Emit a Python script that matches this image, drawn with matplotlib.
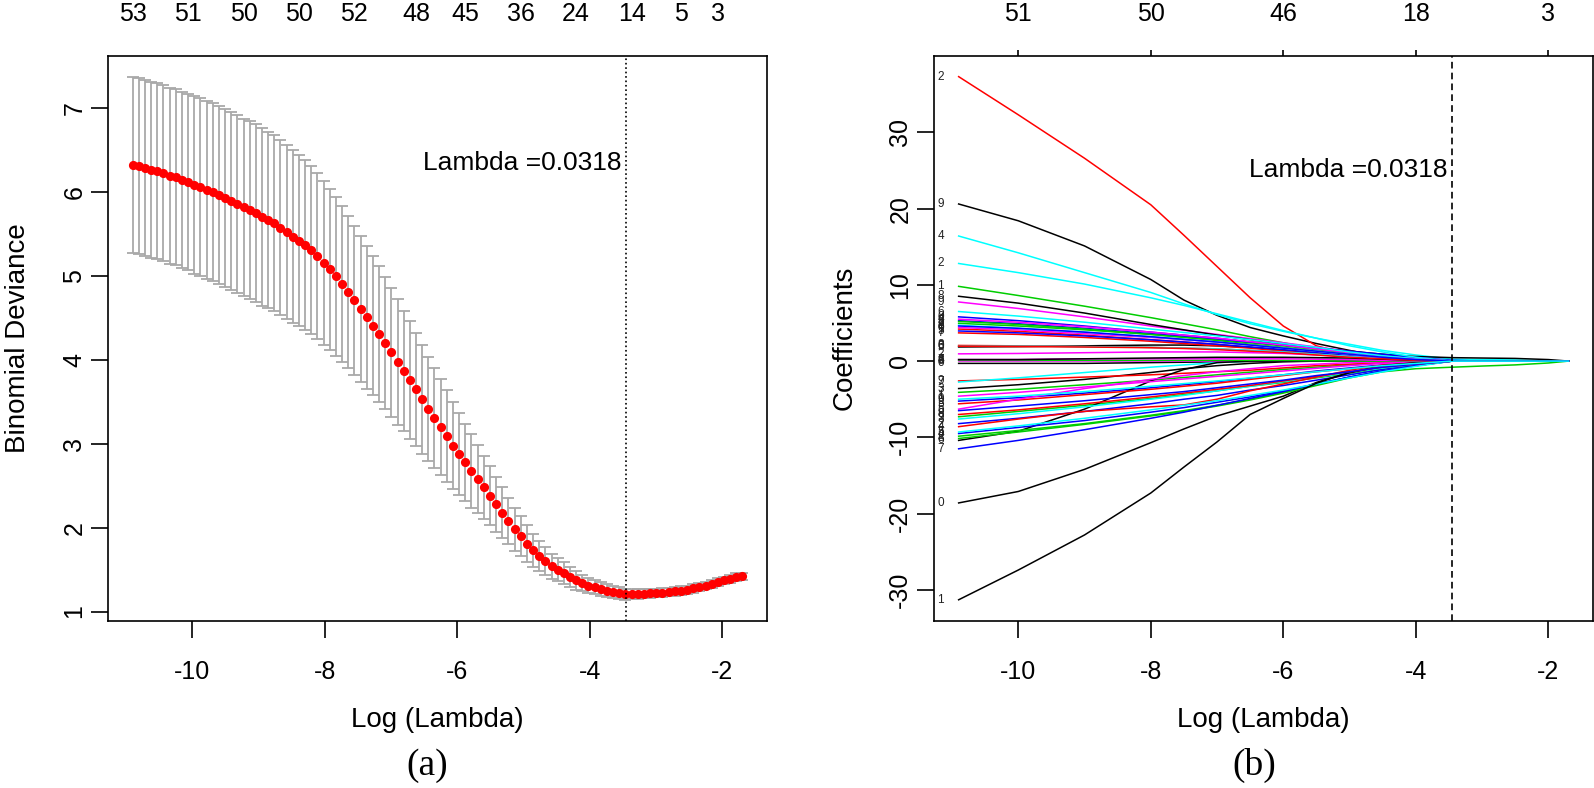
import numpy as np
import matplotlib
matplotlib.use('Agg')
import matplotlib.pyplot as plt

plt.rcParams['font.family'] = ['Liberation Sans', 'DejaVu Sans']
plt.rcParams['axes.unicode_minus'] = False

#Cross-validation curve, one value per lambda on the path (panel a)
log_lambda_first = -10.9
log_lambda_last = -1.693
cv_mean = [6.33, 6.31, 6.29, 6.27, 6.25, 6.23, 6.20, 6.18, 6.15, 6.12,
           6.09, 6.06, 6.03, 6.00, 5.97, 5.93, 5.90, 5.86, 5.82, 5.79,
           5.75, 5.71, 5.67, 5.63, 5.58, 5.53, 5.47, 5.42, 5.37, 5.31,
           5.24, 5.16, 5.08, 5.00, 4.91, 4.81, 4.71, 4.61, 4.51, 4.41,
           4.31, 4.20, 4.09, 3.98, 3.87, 3.76, 3.65, 3.53, 3.42, 3.31,
           3.20, 3.09, 2.98, 2.88, 2.78, 2.68, 2.58, 2.48, 2.38, 2.28,
           2.18, 2.08, 1.98, 1.90, 1.81, 1.73, 1.66, 1.60, 1.54, 1.50,
           1.46, 1.41, 1.37, 1.34, 1.31, 1.29, 1.27, 1.25, 1.235, 1.22,
           1.205, 1.207, 1.21, 1.212, 1.215, 1.22, 1.225, 1.23, 1.24, 1.25,
           1.26, 1.275, 1.29, 1.31, 1.33, 1.35, 1.37, 1.39, 1.41, 1.42]
cv_sd = [1.05, 1.05, 1.05, 1.05, 1.05, 1.05, 1.05, 1.05, 1.05, 1.05,
         1.06, 1.06, 1.06, 1.06, 1.06, 1.06, 1.06, 1.06, 1.06, 1.06,
         1.06, 1.06, 1.05, 1.05, 1.04, 1.04, 1.03, 1.02, 1.01, 1.00,
         0.99, 0.98, 0.96, 0.95, 0.93, 0.91, 0.89, 0.87, 0.85, 0.83,
         0.81, 0.79, 0.77, 0.75, 0.72, 0.70, 0.67, 0.65, 0.62, 0.60,
         0.57, 0.55, 0.52, 0.49, 0.46, 0.44, 0.41, 0.38, 0.35, 0.33,
         0.30, 0.28, 0.26, 0.24, 0.22, 0.20, 0.18, 0.17, 0.15, 0.14,
         0.13, 0.12, 0.11, 0.10, 0.09, 0.085, 0.08, 0.075, 0.07, 0.07,
         0.065, 0.06, 0.06, 0.055, 0.055, 0.05, 0.05, 0.05, 0.05, 0.05,
         0.05, 0.05, 0.045, 0.045, 0.045, 0.045, 0.045, 0.045, 0.045, 0.045]
lambda_min = 0.0318

#Number of non-zero coefficients shown along the top
top_idx_a = [0, 9, 18, 27, 36, 46, 54, 63, 72, 81, 89, 95]
top_labels_a = ['53', '51', '50', '50', '52', '48', '45', '36', '24', '14', '5', '3']
top_pos_b = [-10, -8, -6, -4, -2]
top_labels_b = ['51', '50', '46', '18', '3']

#Coefficient paths (panel b), values at these log(lambda) points
path_x = [-10.9, -10, -9, -8, -7.5, -7, -6.5, -6, -5.5, -5, -4.5, -4,
          -3.45, -3, -2.5, -2, -1.693]

black_paths = [
    [20.6, 18.4, 15.1, 10.7, 8.0, 6.0, 4.4, 3.3, 2.3, 1.4, 0.6, 0.1, 0, 0, 0, 0, 0],
    [8.5, 7.6, 6.3, 4.8, 4.1, 3.4, 2.8, 2.2, 1.7, 1.3, 0.9, 0.6, 0.45, 0.4, 0.35, 0.2, 0],
    [1.85, 1.9, 2.0, 2.1, 2.1, 2.0, 1.8, 1.5, 1.2, 0.8, 0.5, 0.2, 0, 0, 0, 0, 0],
    [-0.3, -0.3, -0.3, -0.2, -0.15, -0.1, -0.05, 0, 0, 0, 0, 0, 0, 0, 0, 0, 0],
    [-3.6, -3.1, -2.4, -1.5, -1.0, -0.6, -0.3, -0.1, 0, 0, 0, 0, 0, 0, 0, 0, 0],
    [-10.4, -9.2, -6.3, -2.6, -1.1, -0.2, 0, 0, 0, 0, 0, 0, 0, 0, 0, 0, 0],
    [-18.6, -17.1, -14.2, -10.7, -8.9, -7.2, -5.9, -4.6, -2.8, -1.5, -0.7, -0.2, 0, 0, 0, 0, 0],
    [-31.3, -27.4, -22.8, -17.3, -13.9, -10.6, -7.0, -4.9, -2.9, -1.5, -0.6, -0.2, 0, 0, 0, 0, 0],
    [0.2, 0.2, 0.3, 0.4, 0.45, 0.5, 0.5, 0.5, 0.45, 0.4, 0.25, 0.1, 0, 0, 0, 0, 0],
]
black_labels = ['9', '8', '5', '0', '3', '6', '0', '1', '4']

red_paths = [
    [37.3, 32.3, 26.6, 20.5, 16.5, 12.4, 8.3, 4.6, 2.0, 0.9, 0.25, 0, 0, 0, 0, 0, 0],
    [4.2, 3.9, 3.4, 2.8, 2.5, 2.2, 1.8, 1.4, 1.0, 0.7, 0.4, 0.2, 0, 0, 0, 0, 0],
    [3.7, 3.5, 3.1, 2.6, 2.3, 2.0, 1.7, 1.3, 0.9, 0.6, 0.3, 0.1, 0, 0, 0, 0, 0],
    [2.05, 2.0, 1.9, 1.8, 1.7, 1.6, 1.4, 1.2, 0.9, 0.6, 0.3, 0.1, 0, 0, 0, 0, 0],
    [-2.6, -2.4, -2.1, -1.8, -1.6, -1.4, -1.2, -0.9, -0.6, -0.4, -0.2, -0.1, 0, 0, 0, 0, 0],
    [-5.6, -5.1, -4.4, -3.7, -3.3, -2.9, -2.4, -1.9, -1.4, -1.0, -0.6, -0.3, 0, 0, 0, 0, 0],
    [-8.6, -7.6, -6.6, -6.0, -5.75, -5.0, -3.9, -3.0, -2.1, -1.2, -0.5, -0.2, 0, 0, 0, 0, 0],
    [-7.0, -6.4, -5.6, -4.7, -4.2, -3.7, -3.2, -2.6, -2.0, -1.4, -0.8, -0.4, 0, 0, 0, 0, 0],
    [1.95, 1.9, 1.85, 1.75, 1.65, 1.5, 1.3, 1.1, 0.8, 0.5, 0.3, 0.1, 0, 0, 0, 0, 0],
]
red_labels = ['2', '1', '7', '3', '9', '5', '4', '8', '6']

green_paths = [
    [9.8, 8.6, 7.2, 5.7, 4.9, 4.1, 3.2, 2.4, 1.6, 1.0, 0.6, 0.3, 0, 0, 0, 0, 0],
    [4.95, 4.6, 4.1, 3.5, 3.15, 2.8, 2.4, 2.0, 1.5, 1.1, 0.6, 0.3, 0, 0, 0, 0, 0],
    [5.2, 4.8, 4.2, 3.5, 3.1, 2.7, 2.2, 1.8, 1.3, 0.9, 0.5, 0.2, 0, 0, 0, 0, 0],
    [-4.1, -3.7, -3.1, -2.5, -2.15, -1.8, -1.45, -1.1, -0.8, -0.5, -0.25, -0.1, 0, 0, 0, 0, 0],
    [-7.3, -6.6, -5.8, -4.9, -4.4, -3.9, -3.3, -2.8, -2.2, -1.6, -1.0, -0.5, 0, 0, 0, 0, 0],
    [-9.85, -9.1, -8.2, -7.1, -6.5, -5.8, -5.0, -4.1, -3.1, -2.1, -1.3, -0.6, 0, 0, 0, 0, 0],
    [-10.15, -9.3, -8.3, -7.2, -6.6, -5.9, -5.1, -4.2, -3.2, -2.2, -1.4, -1.0, -0.8, -0.65, -0.5, -0.25, 0],
    [0.1, 0.1, 0.1, 0.1, 0.1, 0.1, 0.1, 0.1, 0.05, 0, 0, 0, 0, 0, 0, 0, 0],
]
green_labels = ['1', '3', '5', '7', '9', '2', '8', '6']

blue_paths = [
    [5.8, 5.3, 4.6, 3.8, 3.4, 3.0, 2.5, 2.1, 1.6, 1.2, 0.8, 0.4, 0, 0, 0, 0, 0],
    [5.3, 4.9, 4.3, 3.6, 3.25, 2.9, 2.5, 2.1, 1.7, 1.3, 0.9, 0.5, 0.1, 0, 0, 0, 0],
    [3.95, 3.7, 3.3, 2.8, 2.5, 2.2, 1.85, 1.5, 1.1, 0.8, 0.5, 0.2, 0, 0, 0, 0, 0],
    [-5.25, -4.8, -4.2, -3.5, -3.1, -2.7, -2.25, -1.8, -1.3, -0.9, -0.5, -0.2, 0, 0, 0, 0, 0],
    [-8.2, -7.5, -6.6, -5.6, -5.0, -4.5, -3.8, -3.2, -2.5, -1.8, -1.1, -0.5, 0, 0, 0, 0, 0],
    [-9.5, -8.7, -7.8, -6.7, -6.1, -5.4, -4.7, -3.9, -3.0, -2.1, -1.3, -0.6, 0, 0, 0, 0, 0],
    [-11.5, -10.4, -9.0, -7.5, -6.7, -5.8, -4.9, -4.0, -3.0, -2.1, -1.3, -0.6, 0, 0, 0, 0, 0],
    [-6.5, -5.9, -5.2, -4.4, -4.0, -3.5, -3.0, -2.5, -1.9, -1.4, -0.8, -0.4, 0, 0, 0, 0, 0],
    [4.6, 4.3, 3.8, 3.2, 2.85, 2.5, 2.1, 1.7, 1.3, 0.9, 0.5, 0.2, 0, 0, 0, 0, 0],
]
blue_labels = ['0', '3', '5', '9', '2', '4', '7', '6', '8']

cyan_paths = [
    [16.4, 14.2, 11.6, 9.0, 7.5, 6.1, 4.9, 3.9, 3.0, 2.2, 1.4, 0.8, 0.25, 0.2, 0.15, 0.05, 0],
    [12.8, 11.6, 10.1, 8.3, 7.3, 6.2, 5.1, 4.0, 3.0, 2.0, 1.2, 0.5, 0, 0, 0, 0, 0],
    [6.5, 5.9, 5.1, 4.2, 3.75, 3.3, 2.8, 2.3, 1.8, 1.2, 0.7, 0.3, 0, 0, 0, 0, 0],
    [4.7, 4.3, 3.8, 3.2, 2.85, 2.5, 2.1, 1.7, 1.3, 0.9, 0.5, 0.2, 0, 0, 0, 0, 0],
    [-2.75, -2.2, -1.5, -0.8, -0.5, -0.2, 0, 0, 0, 0, 0, 0, 0, 0, 0, 0, 0],
    [-7.6, -6.9, -6.0, -5.0, -4.5, -3.9, -3.3, -2.7, -2.1, -1.5, -0.9, -0.4, 0, 0, 0, 0, 0],
    [-9.3, -8.5, -7.5, -6.4, -5.8, -5.2, -4.5, -3.8, -3.0, -2.2, -1.4, -0.7, 0, 0, 0, 0, 0],
    [1.95, 1.95, 1.9, 1.8, 1.7, 1.6, 1.4, 1.2, 0.9, 0.6, 0.3, 0.1, 0, 0, 0, 0, 0],
    [-5.0, -4.6, -4.0, -3.3, -2.95, -2.6, -2.2, -1.8, -1.4, -1.0, -0.6, -0.3, 0, 0, 0, 0, 0],
]
cyan_labels = ['4', '2', '6', '8', '7', '3', '5', '0', '9']

magenta_paths = [
    [7.75, 6.9, 5.8, 4.6, 4.05, 3.5, 2.95, 2.4, 1.85, 1.3, 0.8, 0.4, 0, 0, 0, 0, 0],
    [5.5, 5.1, 4.5, 3.8, 3.4, 3.0, 2.55, 2.1, 1.6, 1.1, 0.6, 0.3, 0, 0, 0, 0, 0],
    [4.4, 4.1, 3.6, 3.1, 2.8, 2.5, 2.1, 1.7, 1.3, 0.9, 0.5, 0.2, 0, 0, 0, 0, 0],
    [0.95, 1.0, 1.1, 1.2, 1.2, 1.2, 1.1, 1.0, 0.8, 0.6, 0.4, 0.2, 0, 0, 0, 0, 0],
    [0, 0, 0, 0, 0, 0, 0, 0, 0, 0, 0, 0, 0, 0, 0, 0, 0],
    [-6.3, -5.0, -3.6, -2.4, -1.9, -1.4, -1.0, -0.6, -0.4, -0.2, -0.1, 0, 0, 0, 0, 0, 0],
    [-4.6, -4.1, -3.4, -2.7, -2.35, -2.0, -1.65, -1.3, -0.95, -0.6, -0.3, -0.1, 0, 0, 0, 0, 0],
    [0.2, 0.2, 0.3, 0.3, 0.3, 0.3, 0.3, 0.3, 0.25, 0.2, 0.1, 0.05, 0, 0, 0, 0, 0],
]
magenta_labels = ['9', '4', '0', '2', '8', '5', '1', '7']


def r_limits(lo, hi):
    #R style axis range, 4% padding on each side
    pad = (hi - lo) * 0.04
    return lo - pad, hi + pad


fig = plt.figure(figsize=(15.94, 7.88), dpi=100)
ax1 = fig.add_axes([0.0679, 0.2123, 0.4132, 0.717])
ax2 = fig.add_axes([0.5861, 0.2123, 0.4133, 0.717])

#Panel (a)
log_lambda = np.linspace(log_lambda_first, log_lambda_last, len(cv_mean))
mean = np.array(cv_mean)
sd = np.array(cv_sd)
ax1.errorbar(log_lambda, mean, yerr=sd, fmt='none', ecolor='darkgrey',
             elinewidth=1.3, capsize=4.4, capthick=1.3, zorder=1)
ax1.plot(log_lambda, mean, 'o', color='red', markersize=6.6,
         markeredgewidth=0, zorder=2)
ax1.axvline(np.log(lambda_min), color='black', linestyle=':', lw=1.2)
ax1.set_xlim(*r_limits(log_lambda.min(), log_lambda.max()))
ax1.set_ylim(*r_limits((mean - sd).min(), (mean + sd).max()))
ax1.set_yticks([1, 2, 3, 4, 5, 6, 7])
ax1.text(-3.52, 6.35, 'Lambda =%.4f' % lambda_min, ha='right', va='center', fontsize=19)
ax1.set_ylabel('Binomial Deviance', fontsize=20)

top_a = ax1.secondary_xaxis('top')
top_a.set_xticks(log_lambda[top_idx_a], top_labels_a)
top_a.tick_params(length=0, pad=21.5, labelsize=18)
top_a.spines['top'].set_visible(False)

#Panel (b), columns drawn in turn so the colours interleave like matplot
px = np.array(path_x)
groups = [('black', black_paths, black_labels),
          ('red', red_paths, red_labels),
          ('#00CD00', green_paths, green_labels),
          ('blue', blue_paths, blue_labels),
          ('cyan', cyan_paths, cyan_labels),
          ('magenta', magenta_paths, magenta_labels)]
all_vals = []
for k in range(max(len(g[1]) for g in groups)):
    for color, paths, labels in groups:
        if k >= len(paths):
            continue
        vals = paths[k]
        ax2.plot(px, vals, color=color, lw=1.1)
        ax2.text(-11.12, vals[0], labels[k], ha='right', va='center', fontsize=8.5,
                 color='#222222', clip_on=True)
        all_vals.extend(vals)
ax2.axvline(np.log(lambda_min), color='black', linestyle=(0, (4, 2.5)), lw=1.2)
ax2.set_xlim(*r_limits(px.min(), px.max()))
ax2.set_ylim(*r_limits(min(all_vals), max(all_vals)))
ax2.set_yticks([-30, -20, -10, 0, 10, 20, 30])
ax2.text(-3.52, 25, 'Lambda =%.4f' % lambda_min, ha='right', va='center', fontsize=19)
ax2.set_ylabel('Coefficients', fontsize=20)

top_b = ax2.secondary_xaxis('top')
top_b.set_xticks(top_pos_b, top_labels_b)
top_b.tick_params(length=4.3, width=1.2, pad=17.1, labelsize=18)
top_b.spines['top'].set_visible(False)

#Common axis styling
for ax, cap in ((ax1, '(a)'), (ax2, '(b)')):
    ax.set_xticks([-10, -8, -6, -4, -2])
    ax.tick_params(axis='both', direction='out', length=12, width=1.2, labelsize=18)
    ax.tick_params(axis='x', pad=16.6)
    ax.tick_params(axis='y', pad=3.8)
    for lab in ax.get_yticklabels():
        lab.set_rotation(90)
        lab.set_va('center')
    for s in ax.spines.values():
        s.set_linewidth(1.2)
    ax.set_xlabel('Log (Lambda)', fontsize=20)
    ax.xaxis.set_label_coords(0.5, -0.1533)
    ax.yaxis.set_label_coords(-0.1167, 0.5)
    ax.text(0.485, -0.257, cap, transform=ax.transAxes, ha='center', va='center',
            fontsize=27, family='Liberation Serif')

plt.savefig('out.png', dpi=100)
